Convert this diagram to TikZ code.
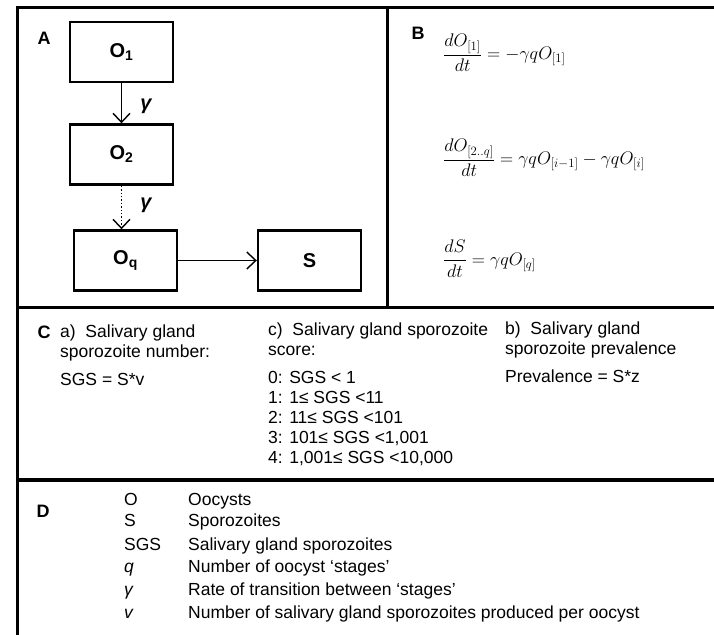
\RequirePackage{fix-cm}
\documentclass[tikz,border=0pt]{standalone}
\usepackage{fontspec}
\setmainfont{Liberation Sans}
\usetikzlibrary{arrows.meta, positioning}
\tikzset{
  panel/.style={line width=3pt},
  box/.style={draw, line width=2.4pt, minimum width=103pt, minimum height=60pt,
    font=\fontsize{20}{24}\selectfont\bfseries},
  lab/.style={font=\fontsize{18}{22}\selectfont\bfseries, inner sep=0pt},
  rate/.style={font=\fontsize{20}{24}\selectfont\bfseries\itshape, inner sep=0pt},
  txt/.style={font=\fontsize{17.5}{20}\selectfont, align=left, anchor=base west, inner sep=0pt},
  eq/.style={font=\fontsize{18.2}{23}\selectfont, anchor=west, inner sep=0pt},
  flow/.style={line width=1.4pt, -{Straight Barb[length=9pt,width=17pt,line width=1.4pt]}}
}

\begin{document}
\begin{tikzpicture}[x=1pt,y=-1pt]
\useasboundingbox (0,0) rectangle (714,634);
\clip (0,0) rectangle (714,634);

\draw[panel] (730,8) -- (17,8) -- (17,650);
\draw[panel] (387,8) -- (387,307);
\draw[panel] (17,307) -- (730,307);
\draw[panel, line width=4pt] (17,480) -- (730,480);

\node[lab] (A) at (44,38) {A};
\node[box] (o1) at (121.5,52) {O\textsubscript{1}};
\node[box] (o2) at (121.5,154.5) {O\textsubscript{2}};
\node[box] (oq) at (125.5,260.5) {O\textsubscript{q}};
\node[box] (s) at (309.5,260.5) {S};
\draw[flow] (o1) -- (o2);
\draw[flow, dotted] (o2.south) -- (o2.south |- oq.north);
\draw[flow] (oq) -- (s);
\node[rate] (g1) at (146,106) {γ};
\node[rate] (g2) at (146,205) {γ};

\node[lab] (B) at (418,33) {B};
\node[eq] (eqa) at (443,53) {$\displaystyle\frac{dO_{[1]}}{dt}=-\gamma qO_{[1]}$};
\node[eq] (eqb) at (443,158) {$\displaystyle\frac{dO_{[2..q]}}{dt}=\gamma qO_{[i-1]}-\gamma qO_{[i]}$};
\node[eq] (eqc) at (443,259) {$\displaystyle\frac{dS}{dt}=\gamma qO_{[q]}$};

\node[lab] (C) at (44,332) {C};
\node[txt] (ca) at (60,357) {a)\ \ Salivary gland\\sporozoite number:};
\node[txt] (cav) at (60,385) {SGS = S*v};
\node[txt] (cc) at (268,355) {c)\ \ Salivary gland sporozoite\\score:};
\node[txt] (ccl) at (268,463) {0: SGS < 1\\1: 1≤ SGS <11\\2: 11≤ SGS <101\\3: 101≤ SGS <1,001\\4: 1,001≤ SGS <10,000};
\node[txt] (cb) at (505,354) {b)\ \ Salivary gland\\sporozoite prevalence};
\node[txt] (cbp) at (505,382) {Prevalence = S*z};

\node[lab] (D) at (43,511) {D};
\node[txt] (so) at (124,505) {O};
\node[txt] (ss) at (124,526) {S};
\node[txt] (ssgs) at (124,550) {SGS};
\node[txt] (sq) at (124,572) {\textit{q}};
\node[txt] (sg) at (124,595) {\textit{γ}};
\node[txt] (sv) at (124,618) {\textit{v}};
\node[txt] (do) at (188,505) {Oocysts};
\node[txt] (ds) at (188,526) {Sporozoites};
\node[txt] (dsgs) at (188,550) {Salivary gland sporozoites};
\node[txt] (dq) at (188,572) {Number of oocyst `stages'};
\node[txt] (dg) at (188,595) {Rate of transition between `stages'};
\node[txt] (dv) at (188,618) {Number of salivary gland sporozoites produced per oocyst};
\end{tikzpicture}
\end{document}
